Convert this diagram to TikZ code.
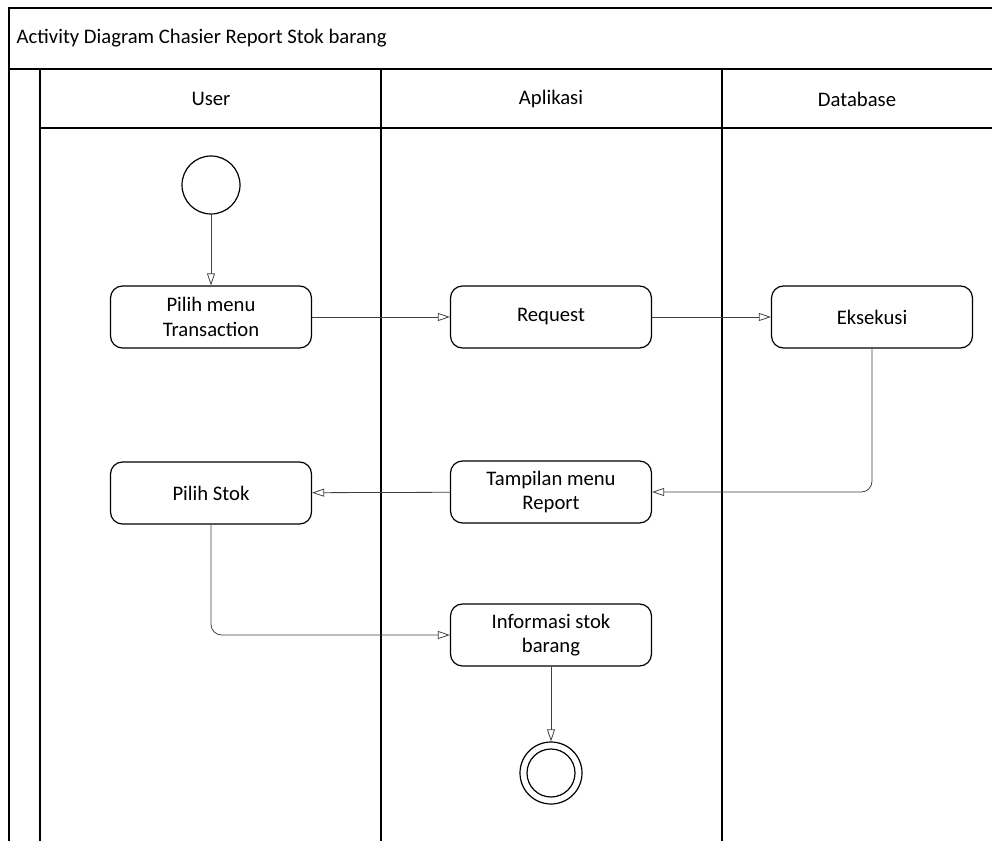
\documentclass[tikz,border=0pt]{standalone}
\usepackage{fontspec}
\setmainfont{Carlito}
\usetikzlibrary{arrows.meta}

\begin{document}
\begin{tikzpicture}[x=0.75pt,y=-0.75pt,font=\fontsize{15.5}{18.5}\selectfont,
  lane/.style={line width=1.2pt},
  act/.style={draw,line width=0.9pt,rounded corners=9pt,minimum width=150.75pt,
    minimum height=46.5pt,align=center},
  flow/.style={draw=black!75,line width=0.6pt,
    -{Triangle[open,length=9pt,width=6pt]}}]
  \useasboundingbox (0,0) rectangle (992,841);
  % frame and swimlanes
  \draw[lane](992,8)--(9,8)--(9,841);
  \draw[lane](9,69)--(992,69);
  \draw[lane](40,69)--(40,841);
  \draw[lane](40,128)--(992,128);
  \foreach \x in {381,722}{
    \draw[lane](\x,69)--(\x,841);}
  \node[anchor=west] (title) at (12,38){Activity Diagram Chasier Report Stok barang};
  \node (huser) at (211,99){User};
  \node (happ) at (551,99){Aplikasi};
  \node (hdb) at (857,99){Database};
  % activities
  \node[draw,circle,line width=0.9pt,minimum size=43.5pt] (start) at (211,185){};
  \node[act] (pilih) at (211,317){Pilih menu\\Transaction};
  \node[act] (req) at (551,317){Request};
  \node[act] (eks) at (872,317){Eksekusi};
  \node[act] (tamp) at (551,492){Tampilan menu\\Report};
  \node[act] (stok) at (211,493){Pilih Stok};
  \node[act] (info) at (551,635){Informasi stok\\barang};
  \node[draw,circle,line width=0.9pt,minimum size=46.5pt] (end) at (551,773){};
  \draw[line width=0.9pt](end.center) circle[radius=18pt];
  % flows
  \draw[flow](start)--(pilih);
  \draw[flow](pilih)--(req);
  \draw[flow](req)--(eks);
  \draw[flow,rounded corners=8pt](eks.south)|-(tamp.east);
  \draw[flow](tamp)--(stok);
  \draw[flow,rounded corners=8pt](stok.south)|-(info.west);
  \draw[flow](info)--(end);
\end{tikzpicture}
\end{document}
